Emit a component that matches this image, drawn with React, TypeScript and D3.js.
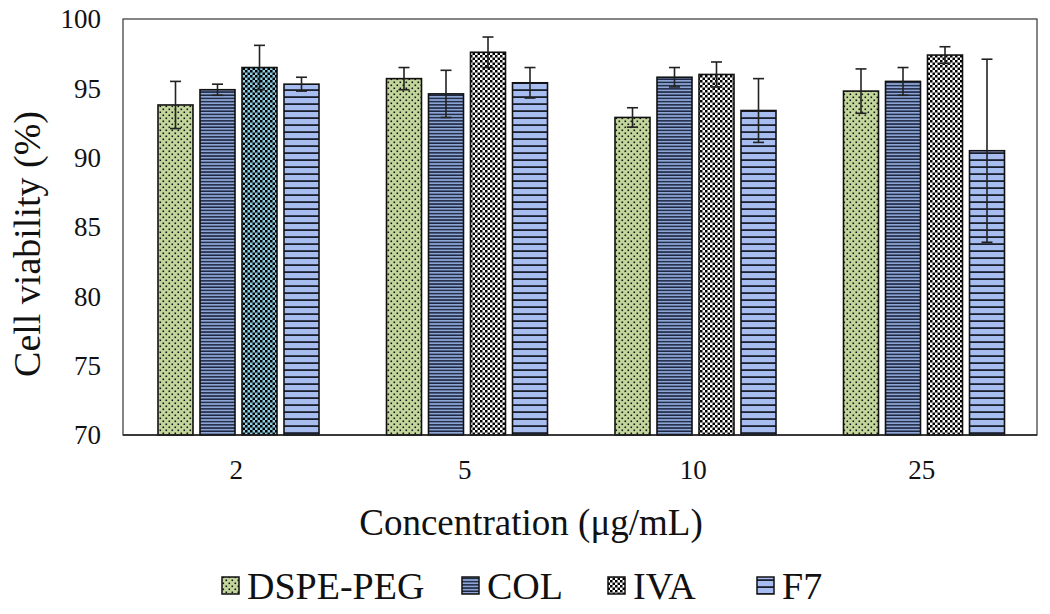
import React from "react";
import * as d3 from "d3";

const categories = ["2", "5", "10", "25"];
const seriesNames = ["DSPE-PEG", "COL", "IVA", "F7"];
const dspeValues = [93.8, 95.7, 92.9, 94.8];
const dspeErrors = [1.7, 0.8, 0.7, 1.6];
const colValues = [94.9, 94.6, 95.8, 95.5];
const colErrors = [0.4, 1.7, 0.7, 1.0];
const ivaValues = [96.5, 97.6, 96.0, 97.4];
const ivaErrors = [1.6, 1.1, 0.9, 0.6];
const f7Values = [95.3, 95.4, 93.4, 90.5];
const f7Errors = [0.5, 1.1, 2.3, 6.6];
const yTicks = [70, 75, 80, 85, 90, 95, 100];

const W = 1050;
const H = 614;
const left = 123, right = 1037, top = 19, bottom = 435;

export default function App() {
  const x = d3.scaleBand<string>().domain(categories).range([left, right]).padding(0);
  const xs = d3.scaleBand<string>().domain(seriesNames).range([35, 196]).paddingInner(1 / 6).paddingOuter(0);
  const y = d3.scaleLinear().domain([70, 100]).range([bottom, top]);

  const series = [
    { name: "DSPE-PEG", values: dspeValues, errors: dspeErrors, fill: "url(#pDots)" },
    { name: "COL", values: colValues, errors: colErrors, fill: "url(#pCol)" },
    { name: "IVA", values: ivaValues, errors: ivaErrors, fill: "url(#pChk)" },
    { name: "F7", values: f7Values, errors: f7Errors, fill: "url(#pF7)" },
  ];

  const font = "'Liberation Serif', 'Times New Roman', serif";
  const legendX = [222, 462, 608, 757];

  return (
    <svg width={W} height={H} style={{ position: "absolute", left: 0, top: 0, background: "#fff" }} fontFamily={font}>
      <defs>
        <pattern id="pDots" width="6" height="6" patternUnits="userSpaceOnUse">
          <rect width="6" height="6" fill="#c3d69b" />
          <rect x="0.5" y="0.5" width="1.6" height="1.6" fill="#111" />
          <rect x="3.5" y="3.5" width="1.6" height="1.6" fill="#111" />
        </pattern>
        <pattern id="pCol" width="6" height="3.2" patternUnits="userSpaceOnUse">
          <rect width="6" height="3.2" fill="#8ea6d6" />
          <rect y="1.7" width="6" height="1.5" fill="#1c2640" />
        </pattern>
        <pattern id="pChk" width="5" height="5" patternUnits="userSpaceOnUse">
          <rect width="5" height="5" fill="#fff" />
          <rect x="0" y="0" width="2.5" height="2.5" fill="#000" />
          <rect x="2.5" y="2.5" width="2.5" height="2.5" fill="#000" />
        </pattern>
        <pattern id="pChkBlue" width="5" height="5" patternUnits="userSpaceOnUse">
          <rect width="5" height="5" fill="#8fd0e6" />
          <rect x="0" y="0" width="2.5" height="2.5" fill="#000" />
          <rect x="2.5" y="2.5" width="2.5" height="2.5" fill="#000" />
        </pattern>
        <pattern id="pF7" width="6" height="7" patternUnits="userSpaceOnUse">
          <rect width="6" height="7" fill="#a7bdef" />
          <rect y="5.2" width="6" height="1.8" fill="#1a1f2e" />
        </pattern>
      </defs>

      <rect x={left} y={top} width={right - left} height={bottom - top} fill="none" stroke="#444" strokeWidth={1.3} />

      {yTicks.map((t) => (
        <text key={t} x={101} y={y(t)} dy="0.35em" textAnchor="end" fontSize={27} fill="#111">
          {t}
        </text>
      ))}

      {categories.map((c, ci) => (
        <g key={c}>
          {series.map((s) => {
            const bx = (x(c) as number) + (xs(s.name) as number);
            const bw = xs.bandwidth();
            const v = s.values[ci];
            const fill = s.name === "IVA" && ci === 0 ? "url(#pChkBlue)" : s.fill;
            return (
              <rect key={s.name} x={bx} y={y(v)} width={bw} height={y(70) - y(v)} fill={fill} stroke="#111" strokeWidth={1.6} />
            );
          })}
          {series.map((s) => {
            const cx = (x(c) as number) + (xs(s.name) as number) + xs.bandwidth() / 2;
            const v = s.values[ci];
            const e = s.errors[ci];
            return (
              <g key={s.name + "e"} stroke="#222" strokeWidth={1.6}>
                <line x1={cx} x2={cx} y1={y(v + e)} y2={y(v - e)} />
                <line x1={cx - 5.5} x2={cx + 5.5} y1={y(v + e)} y2={y(v + e)} />
                <line x1={cx - 5.5} x2={cx + 5.5} y1={y(v - e)} y2={y(v - e)} />
              </g>
            );
          })}
          <text x={(x(c) as number) + x.bandwidth() / 2 - 1} y={470} dy="0.35em" textAnchor="middle" fontSize={27} fill="#111">
            {c}
          </text>
        </g>
      ))}

      <line x1={left} x2={right} y1={bottom} y2={bottom} stroke="#222" strokeWidth={1.5} />

      <text transform={`translate(27,${(top + bottom) / 2 + 17}) rotate(-90)`} textAnchor="middle" dy="0.35em" fontSize={38} fill="#111">
        Cell viability (%)
      </text>
      <text x={531} y={522} dy="0.35em" textAnchor="middle" fontSize={37} fill="#111">
        Concentration (μg/mL)
      </text>

      {series.map((s, i) => (
        <g key={s.name + "leg"}>
          <rect x={legendX[i]} y={577} width={17} height={17} fill={s.fill} stroke="#111" strokeWidth={1.5} />
          <text x={legendX[i] + 25} y={586} dy="0.35em" fontSize={38} fill="#111">
            {s.name}
          </text>
        </g>
      ))}
    </svg>
  );
}
